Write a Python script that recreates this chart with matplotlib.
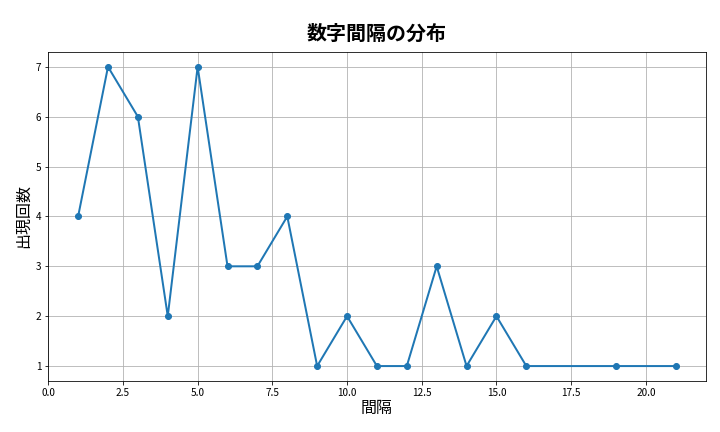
import matplotlib
matplotlib.use("Agg")
import matplotlib.pyplot as plt

plt.rcParams['font.family'] = ['Noto Sans CJK JP', 'DejaVu Sans']

gaps = [1, 2, 3, 4, 5, 6, 7, 8, 9, 10, 11, 12, 13, 14, 15, 16, 19, 21]
counts = [4, 7, 6, 2, 7, 3, 3, 4, 1, 2, 1, 1, 3, 1, 2, 1, 1, 1]

fig, ax = plt.subplots(figsize=(10, 6), dpi=72)
ax.plot(gaps, counts, marker='o', linewidth=2, color='#1f77b4')
ax.set_title('数字間隔の分布', fontsize=20, fontweight='bold', pad=12)
ax.set_xlabel('間隔', fontsize=16, labelpad=2)
ax.set_ylabel('出現回数', fontsize=16, labelpad=4)
ax.set_xlim(0, 22)
ax.grid(True)
fig.subplots_adjust(left=0.067, right=0.98, top=0.88, bottom=0.118)
fig.savefig('out.png', dpi=72)
